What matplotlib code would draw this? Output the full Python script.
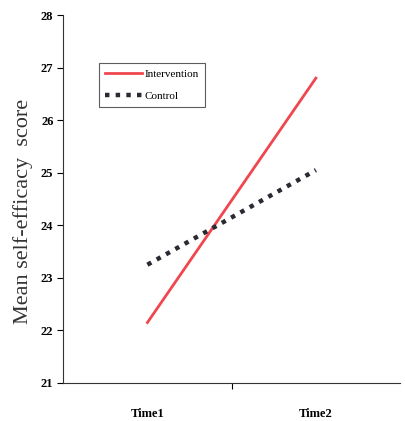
import matplotlib
matplotlib.use('Agg')
from matplotlib import pyplot as plt

plt.rcParams['font.family'] = ['Liberation Serif', 'DejaVu Serif']

# 数据
times = ["Time1", "Time2"]
intervention = [22.15, 26.8]
control = [23.25, 25.05]

fig = plt.figure(figsize=(4.05, 4.21), dpi=100)
ax = fig.add_axes([0.156, 0.0903, 0.832, 0.874])

x = list(range(len(times)))
ax.plot(x, intervention, color="#f0474f", lw=2, label="Intervention")
ax.plot(x, control, color="#2a2a33", lw=3.2, linestyle=(0, (1.0, 1.4)),
        label="Control")

ax.set_xlim(-0.5, 1.5)
ax.set_ylim(21, 28)
ax.set_yticks(range(21, 29))
ax.set_yticklabels([str(v) for v in range(21, 29)], fontweight="bold", fontsize=9)
# 类别标签放在中间，刻度线在边界
ax.set_xticks([0.5])
ax.set_xticklabels([""])
ax.set_xticks(x, minor=True)
ax.set_xticklabels(times, minor=True, fontweight="bold", fontsize=9)
ax.tick_params(axis="x", which="minor", length=0, pad=18)
ax.tick_params(axis="x", which="major", length=4, direction="out")
ax.tick_params(axis="y", length=4, direction="out", pad=3)

for s in ["top", "right"]:
    ax.spines[s].set_visible(False)
ax.spines["left"].set_color("#333333")
ax.spines["bottom"].set_color("#333333")

ax.set_ylabel("Mean self-efficacy  score", fontsize=16, color="#333333")
ax.yaxis.set_label_coords(-0.09, 0.465)

leg = ax.legend(loc="upper left", bbox_to_anchor=(0.107, 0.87), borderaxespad=0,
                fontsize=8, frameon=True, fancybox=False, edgecolor="#333333",
                handlelength=3.3, borderpad=0.55, labelspacing=1.1,
                handletextpad=0.2)
leg.get_frame().set_linewidth(0.8)

fig.savefig("out.png", dpi=100)
